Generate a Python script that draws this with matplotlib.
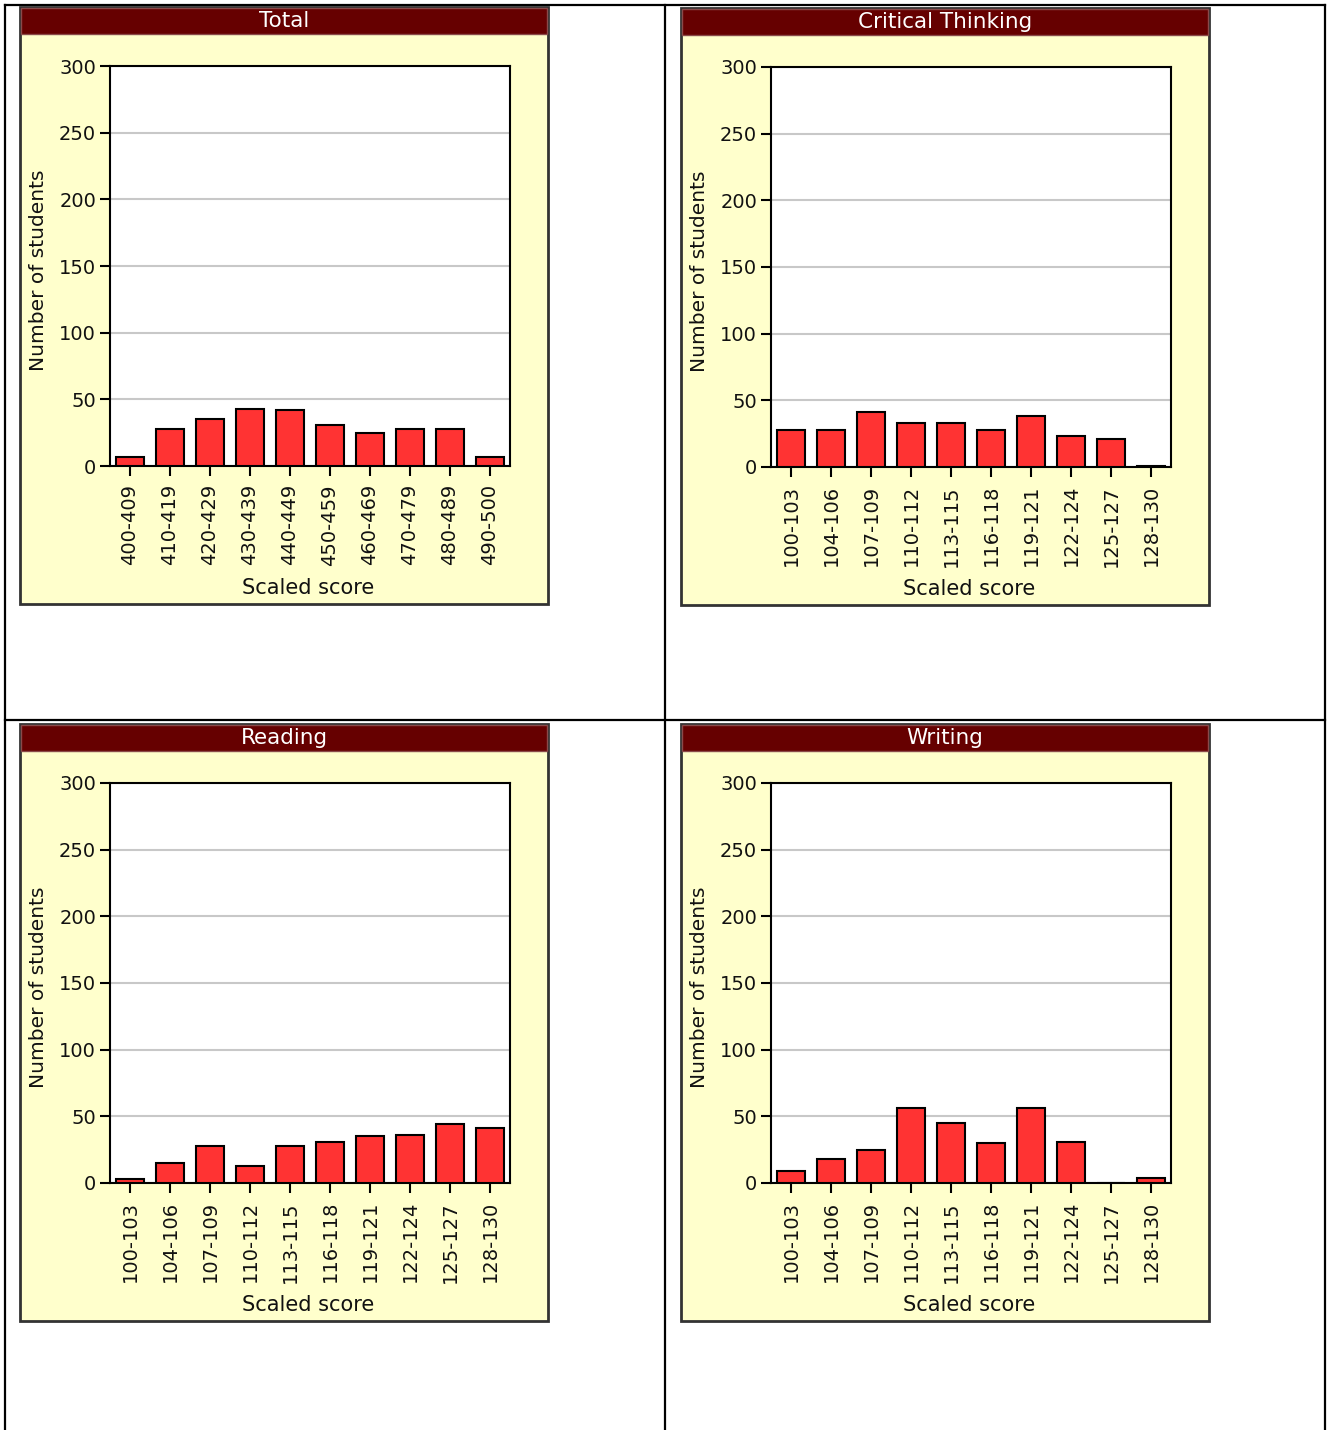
import matplotlib
matplotlib.use("Agg")
import matplotlib.pyplot as plt
from matplotlib.patches import Rectangle
from matplotlib.lines import Line2D

# score bands
total_bins = ["400-409", "410-419", "420-429", "430-439", "440-449",
              "450-459", "460-469", "470-479", "480-489", "490-500"]
sub_bins = ["100-103", "104-106", "107-109", "110-112", "113-115",
            "116-118", "119-121", "122-124", "125-127", "128-130"]

# number of students per band
total_counts = [7, 28, 35, 43, 42, 31, 25, 28, 28, 7]
critical_counts = [28, 28, 41, 33, 33, 28, 38, 23, 21, 1]
reading_counts = [3, 15, 28, 13, 28, 31, 35, 36, 44, 41]
writing_counts = [9, 18, 25, 56, 45, 30, 56, 31, 0, 4]

titles = ["Total", "Critical Thinking", "Reading", "Writing"]
panels = [
    (titles[0], total_bins, total_counts),
    (titles[1], sub_bins, critical_counts),
    (titles[2], sub_bins, reading_counts),
    (titles[3], sub_bins, writing_counts),
]

W, H = 1330, 1430
plt.rcParams['font.family'] = ['DejaVu Sans']

fig = plt.figure(figsize=(W / 100, H / 100), dpi=100)
fig.patch.set_facecolor("white")


def fx(px):
    return px / W


def fy(py):
    return 1 - py / H


# table grid behind the charts
for x in (5, 665, 1325):
    fig.add_artist(Line2D([fx(x), fx(x)], [fy(5), fy(H + 5)], color="black",
                          lw=1.6, zorder=-3))
for y in (5, 720):
    fig.add_artist(Line2D([fx(5), fx(1325)], [fy(y), fy(y)], color="black",
                          lw=1.6, zorder=-3))

# top-left pixel offsets of each panel
offsets = [(0, 0), (661, 1), (0, 717), (661, 717)]

for (title, bins, counts), (dx, dy) in zip(panels, offsets):
    # panel background
    fig.add_artist(Rectangle((fx(20 + dx), fy(604 + dy)), 528 / W, 597 / H,
                             transform=fig.transFigure, facecolor="#ffffcc",
                             edgecolor="#333333", lw=2, zorder=-2))
    # title bar
    fig.add_artist(Rectangle((fx(21 + dx), fy(34 + dy)), 526 / W, 26 / H,
                             transform=fig.transFigure, facecolor="#660000",
                             edgecolor="#8a4a4a", lw=1, zorder=-1))
    fig.text(fx(284 + dx), fy(21 + dy), title, color="white", fontsize=15.5,
             ha="center", va="center")

    ax = fig.add_axes([fx(110 + dx), fy(466 + dy), 400 / W, 400 / H])
    ax.set_facecolor("white")
    x = list(range(len(bins)))
    ax.bar(x, counts, width=0.7, color="#ff3333", edgecolor="black", lw=1.5, zorder=3)
    ax.set_xlim(-0.5, len(bins) - 0.5)
    ax.set_ylim(0, 300)
    ax.set_yticks([0, 50, 100, 150, 200, 250, 300])
    ax.set_xticks(x)
    ax.set_xticklabels(bins, rotation=90)
    ax.yaxis.grid(True, color="#c8c8c8", lw=1.5, zorder=0)
    ax.set_axisbelow(True)
    for s in ax.spines.values():
        s.set_linewidth(1.5)
        s.set_color("black")
    ax.tick_params(axis="both", direction="out", length=7, width=1.5,
                   labelsize=14, labelcolor="#111111")
    ax.tick_params(axis="y", pad=3)
    ax.tick_params(axis="x", pad=6)
    ax.set_ylabel("Number of students", fontsize=14.5, color="#111111")
    ax.yaxis.set_label_coords(-0.155, 0.49)
    ax.set_xlabel("Scaled score", fontsize=15, color="#111111")
    ax.xaxis.set_label_coords(0.495, -0.28)

fig.savefig("out.png", dpi=100, facecolor="white")
